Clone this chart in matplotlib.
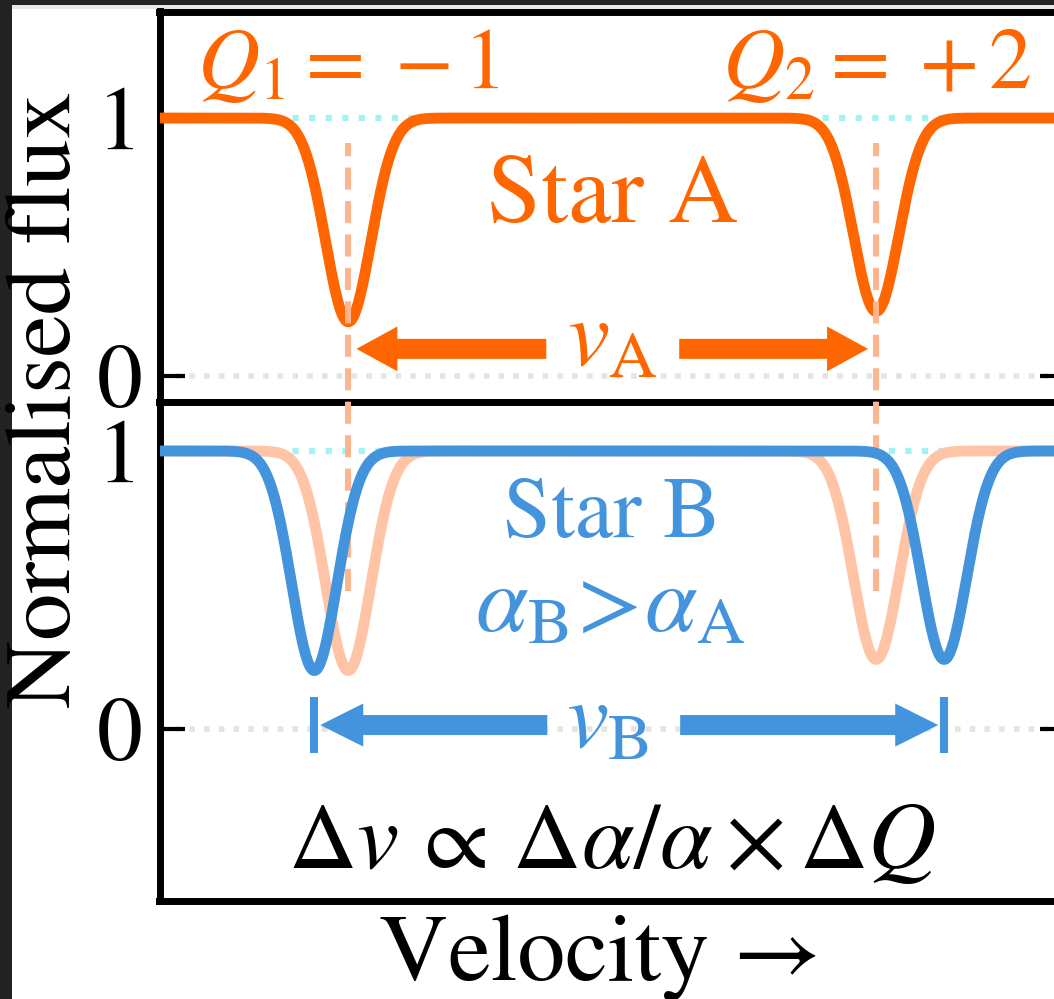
import numpy as np
import matplotlib
matplotlib.use("Agg")
import matplotlib.pyplot as plt
from matplotlib.patches import Rectangle, FancyArrow

plt.rcParams['font.family'] = ['STIXGeneral', 'DejaVu Serif']
plt.rcParams['mathtext.fontset'] = 'stix'

# ---- data ----
charges_Q = np.array([-1, 2])              # sensitivity coefficients of the two lines
centres_A = np.array([-5.83, 5.83])        # line centres, star A (velocity units)
shift_per_Q = 0.75                         # velocity shift per unit Q for star B
centres_B = centres_A + shift_per_Q * charges_Q
line_depths = np.array([0.79, 0.75])
line_sigma = 0.5
q_labels = [r"$Q_1=\;{-}\,1$", r"$Q_2=\;{+}\,2$"]

ORANGE = '#FF6600'
ORANGE_DASH = '#FFB48E'
ORANGE_FADE = '#FFC4A6'
BLUE = '#4394DC'
CYAN = '#A3F3F3'
GREY = '#E4E4E4'

v = np.linspace(-10, 10, 3000)


def profile(centres):
    f = np.ones_like(v)
    for c, d in zip(centres, line_depths):
        f -= d * np.exp(-0.5 * ((v - c) / line_sigma) ** 2)
    return f


flux_A = profile(centres_A)
flux_B = profile(centres_B)

W, H = 1054, 999
fig = plt.figure(figsize=(W / 100, H / 100), dpi=100, facecolor='#232323')
fig.add_artist(Rectangle((12 / W, 0), 1, (H - 8.5) / H, transform=fig.transFigure,
                         facecolor='white', edgecolor='none', zorder=-10))
fig.add_artist(Rectangle((12 / W, (H - 8.5) / H), 1, 3.5 / H, transform=fig.transFigure,
                         facecolor='#E8E8E8', edgecolor='none', zorder=-10))

left = 159.5 / W
width = (1065 - 159.5) / W
ax1 = fig.add_axes([left, (H - 401.5) / H, width, (401.5 - 11.5) / H])
ax2 = fig.add_axes([left, (H - 901) / H, width, (901 - 401.5) / H])

ax1.set_ylim(-0.099, 1.413)
ax2.set_ylim(-0.619, 1.178)
for ax in (ax1, ax2):
    ax.set_xlim(-10, 10)
    ax.set_xticks([])
    ax.set_yticks([0, 1])
    ax.set_yticklabels(['0', '1'])
    ax.tick_params(axis='y', direction='in', length=18, width=3, left=True, right=True,
                   labelsize=66, pad=12)
    for s in ax.spines.values():
        s.set_linewidth(5)
    ax.axhline(0, color=GREY, lw=4, ls=':', zorder=1)
    ax.axhline(1, color=CYAN, lw=4.5, ls=':', zorder=1)

LW = 7.8
# top panel
ax1.plot(v, flux_A, color=ORANGE, lw=LW, zorder=3, solid_capstyle='butt')
for c, lab in zip(centres_A, q_labels):
    ax1.text(c, 1.116, lab, color=ORANGE, fontsize=62, ha='center', va='baseline')
ax1.text(0, 0.597, 'Star A', color=ORANGE, fontsize=70, ha='center', va='baseline')
ax1.text(0, 0.04, r'$v_{\rm A}$', color=ORANGE, fontsize=68, ha='center', va='baseline')
yA = 0.105
tipL, tipR = centres_A[0] + 0.18, centres_A[1] - 0.18
for tail, tip in ((-1.457, tipL), (1.479, tipR)):
    ax1.add_patch(FancyArrow(tail, yA, tip - tail, 0, width=0.0775, head_width=0.174,
                             head_length=0.905, length_includes_head=True,
                             color=ORANGE, lw=0, zorder=4))

# bottom panel
ax2.plot(v, flux_A, color=ORANGE_FADE, lw=LW, zorder=2, solid_capstyle='butt')
ax2.plot(v, flux_B, color=BLUE, lw=LW, zorder=4, solid_capstyle='butt')
ax2.text(0, 0.69, 'Star B', color=BLUE, fontsize=62, ha='center', va='baseline')
ax2.text(-0.05, 0.35, r'$\alpha_{\rm B}\!>\!\alpha_{\rm A}$', color=BLUE, fontsize=68,
         ha='center', va='baseline')
ax2.text(-0.1, -0.065, r'$v_{\rm B}$', color=BLUE, fontsize=68, ha='center', va='baseline')
ax2.text(0, -0.5, r'$\Delta v \,\propto\, \Delta\alpha/\alpha \times \Delta Q$', color='black',
         fontsize=68, ha='center', va='baseline')
yB = 0.014
tipL, tipR = centres_B[0] + 0.13, centres_B[1] - 0.13
for tail, tip in ((-1.435, tipL), (1.50, tipR)):
    ax2.add_patch(FancyArrow(tail, yB, tip - tail, 0, width=0.072, head_width=0.155,
                             head_length=0.95, length_includes_head=True,
                             color=BLUE, lw=0, zorder=5))
for c in centres_B:
    ax2.plot([c, c], [-0.086, 0.115], color=BLUE, lw=5.8, solid_capstyle='butt', zorder=5)

# vertical dashed lines through both panels
fig.canvas.draw()
top_disp = ax1.transData.transform((0, 0.903))
y_top_in_ax2 = ax2.transData.inverted().transform(top_disp)[1]
for c in centres_A:
    ax2.plot([c, c], [0.498, y_top_in_ax2], color=ORANGE_DASH, lw=4.3, ls=(0, (3.7, 1.9)),
             clip_on=False, zorder=3)

fig.text(600 / W, (H - 980) / H, 'Velocity →', fontsize=69, ha='center', va='baseline')
fig.text(48 / W, (H - 400) / H, 'Normalised flux', fontsize=68, rotation=90,
         ha='center', va='center')

fig.savefig('out.png', dpi=100, facecolor=fig.get_facecolor())
